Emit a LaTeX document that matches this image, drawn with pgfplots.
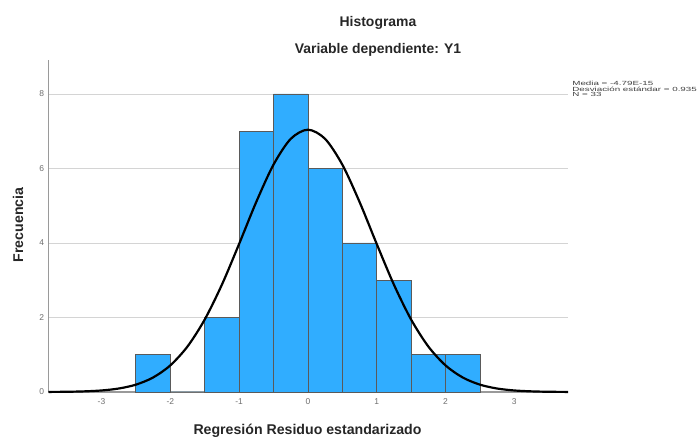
\documentclass[border=0pt]{standalone}
\usepackage{pgfplots}
\pgfplotsset{compat=1.18}
\usepackage{fontspec}
\setmainfont{Liberation Sans}
\definecolor{barblue}{HTML}{30ADFF}
\definecolor{baredge}{HTML}{5A5A5A}
\definecolor{gridc}{HTML}{D4D4D4}
\definecolor{axc}{HTML}{9A9A9A}
\definecolor{tickc}{HTML}{6E6E6E}
\begin{document}
\begin{tikzpicture}
\begin{axis}[
  width=519.5bp, height=332bp, scale only axis,
  xmin=-3.77, xmax=3.78, ymin=0, ymax=8.91,
  axis x line=bottom, axis y line=left,
  axis line style={axc, line width=1.1pt, -},
  xtick={-3,-2,-1,0,1,2,3}, ytick={0,2,4,6,8},
  ymajorgrids, grid style={gridc, line width=0.8pt},
  major tick length=0pt,
  ticklabel style={font=\fontsize{8.5}{9}\selectfont, text=tickc},
  /pgf/number format/assume math mode=true,
  x tick label style={yshift=-3bp},
  y tick label style={xshift=-1bp},
  clip=false,
]
\addplot[ybar interval, fill=barblue, draw=baredge, line width=0.8pt]
 coordinates {(-2.5,1) (-2,0) (-1.5,2) (-1,7) (-0.5,8) (0,6) (0.5,4) (1,3) (1.5,1) (2,1) (2.5,1)};
\addplot[black, line width=2.2pt, smooth] coordinates {
(-3.77,0.002) (-3.5,0.006) (-3.25,0.017) (-3,0.041) (-2.75,0.093) (-2.5,0.197) (-2.25,0.389) (-2,0.714)
(-1.75,1.221) (-1.5,1.944) (-1.25,2.880) (-1,3.973) (-0.75,5.103) (-0.5,6.102) (-0.25,6.793) (0,7.04)
(0.25,6.793) (0.5,6.102) (0.75,5.103) (1,3.973) (1.25,2.880) (1.5,1.944) (1.75,1.221) (2,0.714)
(2.25,0.389) (2.5,0.197) (2.75,0.093) (3,0.041) (3.25,0.017) (3.5,0.006) (3.78,0.002)};
\coordinate (O) at (axis cs:-3.77,0);
\end{axis}
\begin{scope}[shift={(O)}, x=1bp, y=1bp]
\path[use as bounding box] (-48.5,-45) rectangle (648.5,392);
\node[font=\bfseries\fontsize{14}{16}\selectfont, text=black!85] at (329.5,369.5) {Histograma};
\node[font=\bfseries\fontsize{14}{16}\selectfont, text=black!85] at (329.5,342) {Variable dependiente: Y1};
\node[font=\bfseries\fontsize{14.2}{16}\selectfont, text=black!85] at (259,-38.5) {Regresión Residuo estandarizado};
\node[font=\bfseries\fontsize{14.2}{16}\selectfont, rotate=90, text=black!85] at (-30.5,167) {Frecuencia};
\node[font=\fontsize{6}{5.7}\selectfont, anchor=north west, align=left, inner sep=0pt, text=black!75, xscale=1.64] at (523.5,311)
 {Media = -4.79E-15\\Desviación estándar = 0.935\\N = 33};
\end{scope}
\end{tikzpicture}
\end{document}
